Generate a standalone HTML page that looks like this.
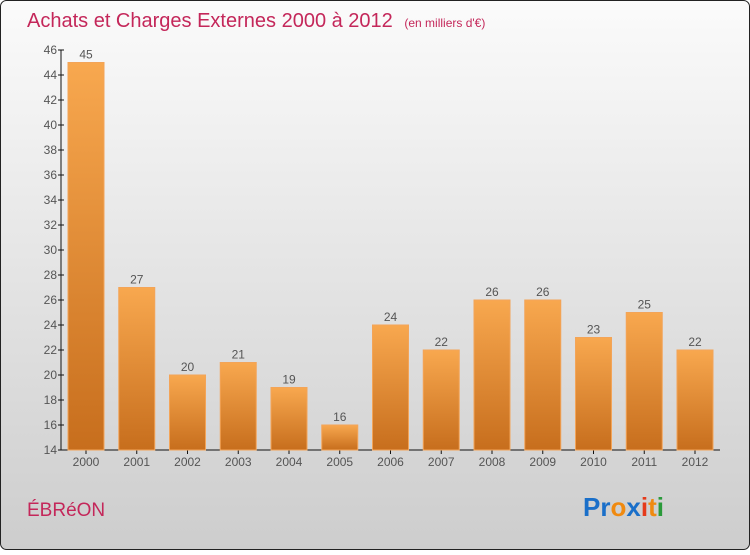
<!DOCTYPE html>
<html><head><meta charset="utf-8"><style>
html,body{margin:0;padding:0;}
body{width:750px;height:550px;overflow:hidden;font-family:"Liberation Sans",sans-serif;}
</style></head><body>
<svg width="750" height="550" xmlns="http://www.w3.org/2000/svg">
<defs>
<linearGradient id="bg" x1="0" y1="0" x2="0" y2="1"><stop offset="0" stop-color="#fbfbfb"/><stop offset="1" stop-color="#cdcdcd"/></linearGradient>
<linearGradient id="bar" x1="0" y1="0" x2="0" y2="1"><stop offset="0" stop-color="#f8a84f"/><stop offset="1" stop-color="#c76e1d"/></linearGradient>
</defs>
<rect x="0.5" y="0.5" width="749" height="549" rx="6" fill="url(#bg)" stroke="#222"/>
<text x="27" y="27" font-size="20" fill="#c4275a">Achats et Charges Externes 2000 à 2012 <tspan font-size="12" dx="6">(en milliers d'€)</tspan></text>
<g id="axes"></g>
<g id="bars"></g>
<text x="27" y="516" font-size="19" fill="#c4275a">ÉBRéON</text>
<text x="583" y="516" font-size="26" font-weight="bold"><tspan fill="#1a6fc9">Pr</tspan><tspan fill="#f08a10">o</tspan><tspan fill="#1a6fc9">x</tspan><tspan fill="#e53a1a">i</tspan><tspan fill="#f08a10">t</tspan><tspan fill="#2a9a3a">i</tspan></text>
</svg>
<script>
const years=["2000","2001","2002","2003","2004","2005","2006","2007","2008","2009","2010","2011","2012"];
const values=[45,27,20,21,19,16,24,22,26,26,23,25,22];
const yTicks=[14,16,18,20,22,24,26,28,30,32,34,36,38,40,42,44,46];
const NS="http://www.w3.org/2000/svg";
const y0=450,yTop=50,vMin=14,vMax=46;
function ys(v){return y0-(v-vMin)*(y0-yTop)/(vMax-vMin);}
function xs(i){return 86+i*50.75;}
function mk(t,a,p){const e=document.createElementNS(NS,t);for(const k in a)e.setAttribute(k,a[k]);p.appendChild(e);return e;}
const ax=document.getElementById('axes'),bg=document.getElementById('bars');
let l=mk('line',{x1:61,y1:yTop,x2:61,y2:y0,stroke:'#111'},ax);


l=mk('line',{x1:61,y1:y0,x2:720,y2:y0,stroke:'#111'},ax);


yTicks.forEach(v=>{
 const t=mk('line',{x1:58,y1:ys(v),x2:64,y2:ys(v),stroke:'#111'},ax);
 
 
 const tx=mk('text',{x:57,y:ys(v)+4,'font-size':12,fill:'#555','text-anchor':'end'},ax);
 tx.textContent=v;
 
 
});
years.forEach((yr,i)=>{
 const x=xs(i),v=values[i];
 const t=mk('line',{x1:x,y1:y0,x2:x,y2:y0+4,stroke:'#111'},ax);
 
 
 const r=mk('rect',{x:x-18,y:ys(v),width:36,height:y0-ys(v),fill:'url(#bar)',stroke:'#f3a458','stroke-width':1},bg);
 
 
 const lb=mk('text',{x:x,y:ys(v)-4,'font-size':12,fill:'#555','text-anchor':'middle'},bg);
 lb.textContent=v;
 
 
 const xl=mk('text',{x:x,y:466,'font-size':12,fill:'#555','text-anchor':'middle'},ax);
 xl.textContent=yr;
 
 
});
</script>
</body></html>
